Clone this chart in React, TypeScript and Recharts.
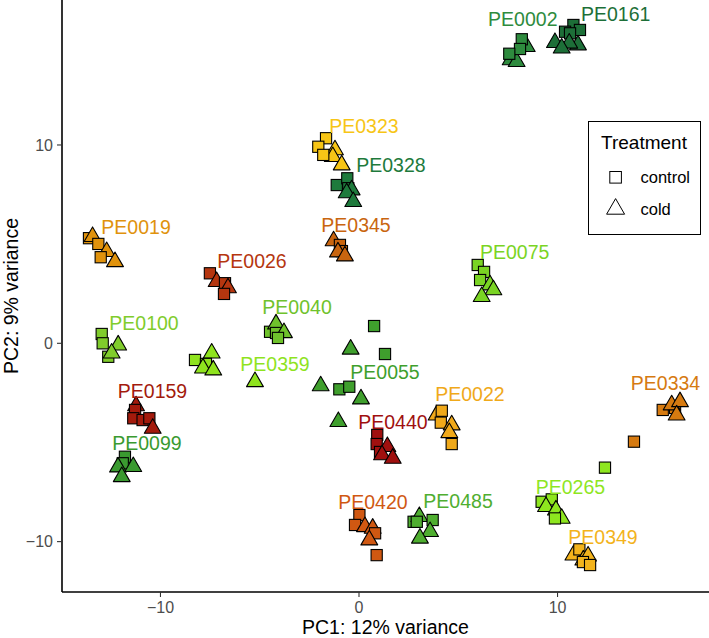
import React from 'react';
import { ScatterChart, Scatter, XAxis, YAxis, Label } from 'recharts';

type Pt = [number, number, 'control' | 'cold'];

const PE0002: Pt[] = [[8.45, 14.96, 'cold'], [7.64, 14.29, 'cold'], [7.94, 14.2, 'cold'], [8.2, 15.33, 'control'], [8.11, 14.84, 'control'], [7.57, 14.6, 'control']];
const PE0161: Pt[] = [[10.8, 16.05, 'control'], [11.13, 15.8, 'control'], [10.38, 15.71, 'control'], [10.63, 15.63, 'control'], [9.87, 15.16, 'cold'], [11.03, 15.04, 'cold'], [10.59, 15.13, 'cold'], [10.21, 14.88, 'cold']];
const PE0323: Pt[] = [[-1.21, 9.75, 'cold'], [-1.32, 9.41, 'cold'], [-0.87, 8.99, 'cold'], [-1.66, 10.34, 'control'], [-2.05, 9.91, 'control'], [-1.8, 9.5, 'control']];
const PE0328: Pt[] = [[-1.12, 7.98, 'control'], [-0.59, 8.32, 'control'], [-0.54, 7.82, 'control'], [-0.37, 7.73, 'cold'], [-0.62, 7.58, 'cold'], [-0.29, 7.14, 'cold']];
const PE0019: Pt[] = [[-13.6, 5.3, 'control'], [-13.42, 5.38, 'cold'], [-13.13, 5.01, 'control'], [-12.71, 4.62, 'cold'], [-13.01, 4.34, 'control'], [-12.29, 4.11, 'cold']];
const PE0345: Pt[] = [[-1.28, 5.16, 'cold'], [-0.96, 4.96, 'control'], [-0.86, 4.65, 'control'], [-1.06, 4.6, 'cold'], [-0.71, 4.4, 'cold']];
const PE0026: Pt[] = [[-7.51, 3.53, 'control'], [-7.17, 3.11, 'cold'], [-6.75, 3.03, 'control'], [-6.6, 2.79, 'cold'], [-6.8, 2.49, 'control']];
const PE0075: Pt[] = [[5.98, 3.95, 'control'], [6.3, 3.6, 'control'], [6.1, 3.19, 'control'], [6.6, 2.94, 'cold'], [6.77, 2.69, 'cold'], [6.18, 2.35, 'cold']];
const PE0100: Pt[] = [[-12.96, 0.47, 'control'], [-12.91, 0.0, 'control'], [-12.13, -0.09, 'cold'], [-12.63, -0.68, 'control'], [-12.46, -0.5, 'cold']];
const PE0040: Pt[] = [[-4.48, 0.58, 'control'], [-4.18, 0.97, 'cold'], [-4.18, 0.52, 'control'], [-3.78, 0.53, 'cold'], [-4.08, 0.27, 'control']];
const PE0359: Pt[] = [[-8.26, -0.84, 'control'], [-7.42, -0.5, 'cold'], [-7.71, -1.04, 'control'], [-7.86, -1.25, 'cold'], [-7.34, -1.35, 'cold'], [-5.24, -1.94, 'cold']];
const PE0055: Pt[] = [[0.76, 0.87, 'control'], [1.31, -0.54, 'control'], [-0.42, -0.3, 'cold'], [-1.93, -2.15, 'cold'], [-0.99, -2.32, 'control'], [-0.49, -2.19, 'control'], [0.1, -2.81, 'cold'], [-1.04, -3.95, 'cold']];
const PE0159: Pt[] = [[-11.23, -3.16, 'cold'], [-11.28, -3.36, 'control'], [-11.37, -3.78, 'control'], [-10.9, -3.87, 'control'], [-10.56, -3.78, 'control'], [-10.39, -4.29, 'cold']];
const PE0099: Pt[] = [[-11.79, -5.72, 'control'], [-11.9, -6.05, 'control'], [-12.14, -6.24, 'cold'], [-11.37, -6.22, 'cold'], [-11.95, -6.73, 'cold']];
const PE0440: Pt[] = [[0.92, -4.62, 'control'], [0.89, -5.08, 'control'], [1.06, -5.48, 'control'], [1.43, -5.21, 'cold'], [1.16, -5.63, 'cold'], [1.7, -5.8, 'cold']];
const PE0022: Pt[] = [[3.91, -3.62, 'cold'], [4.17, -3.4, 'control'], [4.12, -4.0, 'control'], [4.67, -4.12, 'cold'], [4.55, -4.51, 'cold'], [4.67, -5.08, 'control']];
const PE0334: Pt[] = [[15.3, -3.36, 'control'], [15.92, -3.26, 'control'], [15.75, -3.11, 'cold'], [16.17, -2.95, 'cold'], [16.0, -3.62, 'cold'], [13.85, -4.96, 'control']];
const PE0420: Pt[] = [[0.02, -8.66, 'control'], [-0.2, -9.16, 'control'], [0.3, -9.25, 'cold'], [0.69, -9.33, 'cold'], [0.81, -9.58, 'control'], [0.52, -9.92, 'cold'], [0.89, -10.68, 'control']];
const PE0485: Pt[] = [[2.75, -9.0, 'control'], [3.04, -8.74, 'cold'], [2.91, -9.0, 'control'], [3.71, -8.91, 'control'], [3.58, -9.5, 'cold'], [3.07, -9.83, 'cold']];
const PE0265: Pt[] = [[12.39, -6.27, 'control'], [9.2, -7.99, 'control'], [9.71, -7.87, 'control'], [9.42, -8.24, 'cold'], [9.92, -8.41, 'cold'], [10.21, -8.83, 'cold'], [9.87, -8.83, 'control']];
const PE0349: Pt[] = [[10.8, -10.68, 'cold'], [11.1, -10.39, 'control'], [11.3, -10.93, 'cold'], [11.54, -10.73, 'cold'], [11.28, -11.03, 'control'], [11.64, -11.18, 'control']];

const groupNames = ['PE0002', 'PE0161', 'PE0323', 'PE0328', 'PE0019', 'PE0345', 'PE0026', 'PE0075', 'PE0100', 'PE0040', 'PE0359', 'PE0055', 'PE0159', 'PE0099', 'PE0440', 'PE0022', 'PE0334', 'PE0420', 'PE0485', 'PE0265', 'PE0349'];
const groupPoints = [PE0002, PE0161, PE0323, PE0328, PE0019, PE0345, PE0026, PE0075, PE0100, PE0040, PE0359, PE0055, PE0159, PE0099, PE0440, PE0022, PE0334, PE0420, PE0485, PE0265, PE0349];
const groupColors = ['#2e8b3e', '#1d6f38', '#f7c516', '#1e7a3c', '#e0920c', '#c9650f', '#b5360f', '#7ad424', '#80cc2c', '#6fc22c', '#8fe31e', '#3f9f2d', '#a31a0c', '#3a9a30', '#a0100f', '#f0a91a', '#d67a10', '#d05812', '#4fae30', '#8ee61f', '#f3b31c'];
const labelX = [8.25, 12.93, 0.25, 1.61, -11.23, -0.15, -5.39, 7.84, -10.83, -3.12, -4.23, 1.31, -10.4, -10.68, 1.71, 5.59, 15.44, 0.7, 4.99, 10.65, 12.29];
const labelY = [16.34, 16.6, 10.96, 8.99, 5.86, 5.97, 4.15, 4.62, 1.02, 1.85, -1.06, -1.46, -2.39, -5.04, -3.95, -2.57, -2.02, -7.99, -7.95, -7.23, -9.75];

const xTicks = [-10, 0, 10];
const yTicks = [-10, 0, 10];
const xTitle = 'PC1: 12% variance';
const yTitle = 'PC2: 9% variance';
const legendTitle = 'Treatment';
const treatments = ['control', 'cold'];

const FONT = '"Liberation Sans", Arial, Helvetica, sans-serif';

function makeShape(color: string) {
  return (props: any) => {
    const { cx, cy, payload } = props;
    if (cx == null || cy == null) return <g />;
    if (payload.t === 'control') {
      return <rect x={cx - 5.6} y={cy - 5.6} width={11.2} height={11.2} fill={color} stroke="#000" strokeWidth={1.1} />;
    }
    const r = 9.7;
    const xc = r * 0.866;
    return (
      <polygon
        points={`${cx},${cy - r} ${cx + xc},${cy + r / 2} ${cx - xc},${cy + r / 2}`}
        fill={color}
        stroke="#000"
        strokeWidth={1.1}
        strokeLinejoin="round"
      />
    );
  };
}

const labelShape = (props: any) => {
  const { cx, cy, payload } = props;
  if (cx == null || cy == null) return <g />;
  return (
    <text x={cx} y={cy} dy="0.36em" textAnchor="middle" fill={payload.color} fontSize={19.5} fontFamily={FONT}>
      {payload.name}
    </text>
  );
};

const fmt = (v: number) => String(v).replace('-', '\u2212');

export default function App() {
  const labelData = groupNames.map((n, i) => ({ x: labelX[i], y: labelY[i], name: n, color: groupColors[i] }));
  return (
    <div style={{ position: 'absolute', left: 0, top: 0, width: 709, height: 638, background: '#fff' }}>
      <ScatterChart width={709} height={638} margin={{ top: 0, right: 0, bottom: 0, left: 0 }}>
        <XAxis
          type="number"
          dataKey="x"
          domain={[-14.96, 17.63]}
          ticks={xTicks}
          allowDataOverflow
          interval={0}
          height={46}
          tickSize={5}
          tickMargin={5}
          axisLine={{ stroke: '#000', strokeWidth: 1.6 }}
          tickLine={{ stroke: '#333', strokeWidth: 1.1 }}
          tick={{ fill: '#4d4d4d', fontSize: 16, fontFamily: FONT }}
          tickFormatter={fmt}
        >
          <Label
            content={(p: any) => {
              const vb = p.viewBox || { x: 62, width: 647 };
              const cx = vb.x + vb.width / 2;
              return (
                <text x={cx} y={626.5} dy="0.36em" textAnchor="middle" fill="#000" fontSize={19.5} fontFamily={FONT}>
                  {xTitle}
                </text>
              );
            }}
          />
        </XAxis>
        <YAxis
          type="number"
          dataKey="y"
          domain={[-12.54, 17.31]}
          ticks={yTicks}
          allowDataOverflow
          interval={0}
          width={62}
          tickSize={5}
          tickMargin={4}
          axisLine={{ stroke: '#000', strokeWidth: 1.6 }}
          tickLine={{ stroke: '#333', strokeWidth: 1.1 }}
          tick={{ fill: '#4d4d4d', fontSize: 16, fontFamily: FONT }}
          tickFormatter={fmt}
        >
          <Label
            content={() => {
              const cx = 11;
              const cy = 296;
              return (
                <text x={cx} y={cy} dy="0.36em" textAnchor="middle" transform={`rotate(-90 ${cx} ${cy})`} fill="#000" fontSize={19.5} fontFamily={FONT}>
                  {yTitle}
                </text>
              );
            }}
          />
        </YAxis>
        {groupPoints.map((pts, i) => (
          <Scatter
            key={groupNames[i]}
            name={groupNames[i]}
            data={pts.map((p) => ({ x: p[0], y: p[1], t: p[2] }))}
            fill={groupColors[i]}
            shape={makeShape(groupColors[i])}
            isAnimationActive={false}
          />
        ))}
        <Scatter name="labels" data={labelData} shape={labelShape} isAnimationActive={false} />
      </ScatterChart>
      <div
        style={{
          position: 'absolute',
          left: 587.5,
          top: 120.5,
          width: 113,
          height: 114,
          border: '1px solid #000',
          boxSizing: 'border-box',
          background: '#fff',
        }}
      >
        <svg width={111} height={112} style={{ display: 'block' }}>
          <text x={55} y={20.5} dy="0.36em" textAnchor="middle" fontSize={19} fontFamily={FONT} fill="#000">
            {legendTitle}
          </text>
          <rect x={20.8} y={49.5} width={11.6} height={11.6} fill="none" stroke="#000" strokeWidth={1} />
          <text x={51.5} y={55.3} dy="0.36em" fontSize={16.5} fontFamily={FONT} fill="#000">
            {treatments[0]}
          </text>
          <polygon
            points={`${26.6},${87 - 10.4} ${26.6 + 9},${87 + 5.2} ${26.6 - 9},${87 + 5.2}`}
            fill="none"
            stroke="#000"
            strokeWidth={1}
          />
          <text x={51.5} y={86.8} dy="0.36em" fontSize={16.5} fontFamily={FONT} fill="#000">
            {treatments[1]}
          </text>
        </svg>
      </div>
    </div>
  );
}
